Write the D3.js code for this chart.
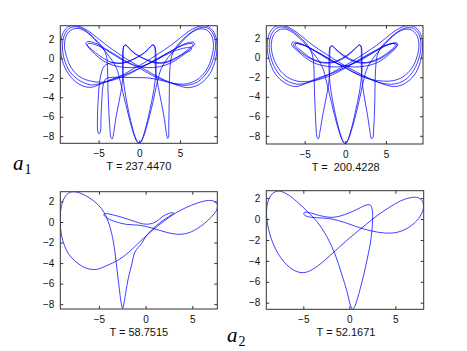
<!DOCTYPE html>
<html><head><meta charset="utf-8">
<script src="https://cdn.jsdelivr.net/npm/d3@7"></script>
<style>body{margin:0;background:#fff}svg{display:block}</style>
</head><body>
<svg id="c" width="467" height="351"></svg>
<script>
// ---------- data ----------
const xTicks = [-5, 0, 5];
const yTicks = [-8, -6, -4, -2, 0, 2];
const periodLabels = ["T = 237.4470", "T =  200.4228", "T = 58.7515", "T = 52.1671"];
const panelNames = [["a", "1"], ["a", "2"]];

// orbit T = 237.4470 (top left)
const orbitTL = [
[-3.6,-2.2],[-4.9,-2.7],[-6.1,-2.98],[-7.5,-2.6],[-8.7,-1.6],[-9.5,-0.1],[-9.65,1.5],[-9.35,2.65],[-8.65,3.3],[-7.6,3.33],[-6.5,2.95],[-5.3,2.2],[-4.1,1.4],[-2.5,0.45],[-0.9,-0.4],[0.7,-1.15],[2.4,-1.95],[4.0,-2.55],[5.2,-2.9],[6.2,-3.0],
[7.5,-2.6],[8.7,-1.55],[9.4,0.0],[9.55,1.5],[9.2,2.65],[8.45,3.28],[7.4,3.3],[6.3,2.9],[5.1,2.15],[3.9,1.35],[2.3,0.45],[0.7,-0.4],[-0.9,-1.15],[-2.5,-1.9],[-4.0,-2.4],[-5.1,-2.65],
[-6.0,-2.72],[-7.3,-2.3],[-8.5,-1.4],[-9.25,0.0],[-9.45,1.4],[-9.15,2.5],[-8.5,3.15],[-7.5,3.22],[-6.5,2.8],[-5.5,2.05],[-4.6,1.25],
[-4.05,0.3],[-3.9,-1.2],[-3.85,-3.2],[-3.75,-5.3],[-3.62,-7.1],[-3.48,-8.15],[-3.33,-8.28],[-3.12,-7.5],[-2.85,-6.0],[-2.45,-4.3],[-2.12,-2.7],[-1.98,-1.2],[-1.98,0.2],[-1.98,0.85],[-1.88,1.25],[-1.7,1.38],[-1.5,1.3],[-1.25,1.05],
[-0.5,0.5],[0.5,0.0],[1.8,-0.45],[3.2,-0.45],[4.5,0.0],[5.6,0.65],[6.4,1.2],[6.82,1.45],[6.7,1.65],[6.2,1.65],[5.3,1.4],[4.2,0.9],[3.0,0.3],
[1.8,-0.3],[0.5,-0.75],[-1.0,-0.95],[-2.5,-0.85],[-3.9,-0.5],[-5.0,0.1],[-5.9,0.8],[-6.4,1.3],[-6.56,1.55],[-6.4,1.72],[-5.9,1.7],[-5.1,1.45],[-4.2,1.0],
[-3.0,0.4],[-1.6,-0.3],[0.0,-1.0],[1.6,-1.75],[3.3,-2.35],[4.8,-2.7],[6.0,-2.75],
[7.3,-2.35],[8.45,-1.3],[9.15,0.1],[9.38,1.5],[9.05,2.55],[8.4,3.12],[7.45,3.15],[6.4,2.7],[5.4,2.0],[4.55,1.2],
[4.0,0.3],[3.75,-1.2],[3.7,-3.2],[3.66,-5.3],[3.62,-7.1],[3.6,-8.05],[3.5,-8.22],[3.35,-7.8],[3.1,-6.3],[2.7,-4.5],[2.3,-2.8],[2.0,-1.2],[1.95,0.2],[1.95,0.85],[1.85,1.25],[1.68,1.38],[1.48,1.3],[1.2,1.02],
[0.5,0.5],[-0.5,0.0],[-1.8,-0.45],[-3.2,-0.45],[-4.4,0.0],[-5.4,0.6],[-6.05,1.05],[-6.39,1.35],[-6.3,1.52],[-5.8,1.5],[-5.0,1.28],[-4.0,0.82],[-2.9,0.25],
[-1.8,-0.3],[-0.5,-0.75],[1.0,-0.95],[2.5,-0.85],[3.8,-0.5],[5.0,0.1],[5.9,0.7],[6.45,1.1],[6.64,1.35],[6.5,1.52],[6.0,1.5],[5.2,1.3],[4.3,0.92],
[3.0,0.35],[1.5,-0.35],[0.0,-1.05],[-1.6,-1.75],[-3.3,-2.25],[-4.8,-2.45],
[-5.9,-2.35],[-7.2,-1.95],[-8.3,-1.05],[-8.95,0.2],[-9.2,1.4],[-8.9,2.45],[-8.25,2.98],[-7.35,3.05],[-6.4,2.65],[-5.5,1.95],[-4.6,1.1],
[-3.6,0.1],[-2.8,-1.0],[-2.3,-2.5],[-1.7,-4.6],[-1.0,-6.9],[-0.45,-8.3],[-0.1,-8.7],[0.2,-8.55],[0.7,-7.4],[1.3,-5.3],[1.8,-3.2],[2.05,-1.3],[2.05,0.3],[2.0,0.9],[1.88,1.28],[1.7,1.4],[1.5,1.32],[1.2,1.05],
[0.4,0.45],[-0.8,-0.1],[-2.2,-0.5],[-3.4,-0.45],[-4.3,-0.8],[-4.8,-2.0],[-5.05,-4.2],[-5.15,-6.4],[-5.1,-7.5],[-4.95,-7.75],[-4.78,-7.5],[-4.7,-6.0],[-4.6,-4.2],[-4.45,-2.8],[-4.1,-2.1],[-3.3,-1.95],[-2.0,-1.95],[-0.5,-1.98],[1.0,-2.0],[2.4,-2.2],[3.8,-2.5],[5.0,-2.65],[5.9,-2.6],
[7.1,-2.2],[8.25,-1.2],[8.9,0.15],[9.12,1.4],[8.85,2.4],[8.2,2.95],[7.3,3.0],[6.35,2.6],[5.45,1.9],[4.55,1.05],
[3.5,0.05],[2.7,-1.05],[2.2,-2.5],[1.65,-4.6],[0.95,-6.9],[0.4,-8.3],[0.05,-8.72],[-0.25,-8.55],[-0.75,-7.4],[-1.35,-5.3],[-1.8,-3.2],[-2.05,-1.3],[-2.05,0.3],[-2.0,0.9],[-1.9,1.25],[-1.72,1.36],[-1.52,1.28],[-1.25,1.0],
[-0.4,0.4],[0.8,-0.1],[2.3,-0.45],[3.5,-0.3],[4.7,0.15],[5.6,0.55],[6.2,0.75],[6.43,0.95],[6.3,1.12],[5.8,1.1],[5.0,0.95],[4.1,0.7],
[3.0,0.25],[1.5,-0.4],[-0.1,-1.05],[-1.8,-1.7]
];

// orbit T = 200.4228 (top right)
const orbitTR = [
[-3.6,-2.15],[-4.9,-2.65],[-6.1,-2.95],[-7.4,-2.6],[-8.6,-1.65],[-9.4,-0.1],[-9.6,1.4],[-9.3,2.55],[-8.6,3.2],[-7.6,3.28],[-6.5,2.9],[-5.3,2.15],[-4.1,1.35],[-2.5,0.45],[-0.9,-0.4],[0.7,-1.15],[2.4,-1.9],[4.0,-2.5],[5.2,-2.85],[6.2,-2.95],
[7.5,-2.55],[8.7,-1.5],[9.35,0.0],[9.5,1.5],[9.15,2.6],[8.4,3.2],[7.4,3.25],[6.3,2.85],[5.1,2.1],[3.9,1.3],[2.3,0.4],[0.7,-0.45],[-0.9,-1.2],[-2.5,-1.9],[-4.0,-2.4],[-5.1,-2.65],
[-6.0,-2.7],[-7.3,-2.3],[-8.4,-1.4],[-9.15,0.0],[-9.35,1.35],[-9.05,2.45],[-8.4,3.05],[-7.5,3.12],[-6.5,2.75],[-5.5,2.05],[-4.6,1.25],
[-4.05,0.3],[-3.85,-1.2],[-3.8,-3.2],[-3.7,-5.3],[-3.6,-7.1],[-3.45,-8.2],[-3.3,-8.3],[-3.1,-7.5],[-2.8,-6.0],[-2.4,-4.3],[-2.05,-2.7],[-1.9,-1.2],[-1.9,0.2],[-1.9,0.75],[-1.82,1.08],[-1.65,1.22],[-1.45,1.12],[-1.15,0.85],
[-0.2,0.15],[0.8,-0.3],[2.0,-0.55],[3.2,-0.45],[4.4,-0.05],[5.4,0.5],[6.1,1.0],[6.45,1.3],[6.35,1.5],[5.9,1.5],[5.1,1.3],[4.1,0.85],[3.0,0.3],
[1.8,-0.3],[0.5,-0.75],[-1.0,-0.95],[-2.5,-0.85],[-3.8,-0.55],[-4.9,0.0],[-5.8,0.65],[-6.4,1.1],[-6.6,1.4],[-6.45,1.6],[-6.0,1.58],[-5.2,1.35],[-4.3,0.95],
[-3.1,0.4],[-1.6,-0.3],[0.0,-1.0],[1.6,-1.7],[3.3,-2.3],[4.8,-2.65],[6.0,-2.7],
[7.3,-2.3],[8.4,-1.3],[9.1,0.1],[9.3,1.45],[9.0,2.45],[8.35,3.0],[7.45,3.05],[6.4,2.65],[5.4,1.95],[4.5,1.2],
[3.95,0.3],[3.72,-1.2],[3.65,-3.2],[3.6,-5.3],[3.5,-7.1],[3.38,-8.2],[3.22,-8.3],[3.02,-7.5],[2.75,-6.0],[2.4,-4.3],[2.1,-2.7],[1.98,-1.2],[1.97,0.2],[1.97,0.85],[1.9,1.18],[1.75,1.32],[1.55,1.22],[1.25,0.95],
[0.2,0.15],[-0.8,-0.3],[-2.0,-0.55],[-3.2,-0.45],[-4.4,-0.05],[-5.4,0.5],[-6.05,0.95],[-6.35,1.25],[-6.25,1.45],[-5.8,1.45],[-5.0,1.25],[-4.0,0.8],[-2.9,0.25],
[-1.8,-0.3],[-0.5,-0.75],[1.0,-0.95],[2.5,-0.85],[3.8,-0.55],[4.9,0.0],[5.7,0.6],[6.2,1.0],[6.35,1.3],[6.2,1.48],[5.75,1.45],[5.0,1.25],[4.2,0.9],
[3.0,0.35],[1.5,-0.35],[0.0,-1.05],[-1.6,-1.75],[-3.3,-2.25],[-4.8,-2.45],
[-5.9,-2.4],[-7.1,-2.0],[-8.2,-1.1],[-8.9,0.15],[-9.1,1.35],[-8.8,2.35],[-8.15,2.85],[-7.3,2.92],[-6.4,2.55],[-5.5,1.9],[-4.6,1.1],
[-3.6,0.1],[-2.8,-1.0],[-2.3,-2.5],[-1.7,-4.6],[-1.0,-6.9],[-0.45,-8.3],[-0.1,-8.78],[0.2,-8.6],[0.7,-7.4],[1.3,-5.3],[1.8,-3.2],[2.05,-1.3],[2.05,0.3],[2.02,0.88],[1.93,1.2],[1.77,1.32],[1.57,1.23],[1.25,0.97],
[0.1,0.2],[-1.0,-0.3],[-2.2,-0.5],[-3.4,-0.35],[-4.5,0.1],[-5.4,0.7],[-5.95,1.05],[-6.15,1.3],[-6.0,1.45],[-5.6,1.4],[-4.8,1.2],[-3.9,0.8],
[-2.8,0.3],[-1.4,-0.4],[0.1,-1.1],[1.7,-1.8],[3.3,-2.25],[4.8,-2.4],[5.9,-2.35],
[7.1,-1.95],[8.2,-1.05],[8.85,0.2],[9.05,1.4],[8.75,2.35],[8.1,2.85],[7.25,2.9],[6.3,2.5],[5.4,1.85],[4.5,1.05],
[3.5,0.05],[2.7,-1.05],[2.2,-2.5],[1.65,-4.6],[0.95,-6.9],[0.4,-8.3],[0.05,-8.8],[-0.25,-8.6],[-0.75,-7.4],[-1.35,-5.3],[-1.8,-3.2],[-2.0,-1.3],[-1.98,0.3],[-1.95,0.8],[-1.86,1.1],[-1.68,1.22],[-1.48,1.12],[-1.15,0.85],
[0.0,0.15],[1.1,-0.3],[2.3,-0.5],[3.5,-0.3],[4.6,0.15],[5.5,0.7],[6.0,1.05],[6.15,1.3],[5.95,1.45],[5.5,1.4],[4.7,1.2],[3.8,0.8],
[2.7,0.3],[1.3,-0.4],[-0.2,-1.05],[-1.8,-1.65]
];

// orbit T = 58.7515 (bottom left)
const orbitBL = [
[-2.46,-8.41],[-2.32,-7.92],[-2.11,-6.79],[-1.86,-5.49],[-1.50,-4.19],[-1.14,-2.92],[-0.43,-2.08],[0.11,-1.30],[0.64,-0.78],[1.18,-0.32],[1.89,0.16],[2.43,0.49],[2.79,0.71],[3.04,0.81],[2.96,0.91],[2.43,0.81],
[1.89,0.58],[1.46,0.26],[1.0,-0.03],[0.46,-0.19],[-0.25,-0.19],[-1.32,0.10],[-2.39,0.42],[-3.46,0.68],[-4.11,0.81],[-4.46,0.78],[-4.46,0.65],[-4.18,0.42],[-3.46,0.10],[-2.04,-0.23],[-0.61,-0.32],[0.82,-0.62],[2.25,-1.01],[3.68,-1.20],[4.93,-0.94],[6.18,-0.23],[7.07,0.52],[7.61,1.17],[7.68,1.72],[7.25,2.05],[6.54,2.08],[5.46,1.82],[4.39,1.43],[3.14,0.84],[1.89,0.03],[0.64,-0.88],[-0.61,-1.92],[-1.86,-2.99],[-2.93,-3.70],[-4.18,-4.25],[-5.25,-4.61],[-6.32,-4.51],[-7.39,-3.93],[-8.29,-3.05],[-8.89,-1.75],[-9.14,-0.29],[-9.11,1.01],[-8.82,2.14],[-8.29,2.79],[-7.75,2.95],[-6.86,2.76],[-5.96,2.31],[-5.07,1.66],[-4.46,0.94],[-4.0,0.03],[-3.64,-1.10],[-3.29,-2.89],[-3.04,-4.84],[-2.82,-6.46],[-2.64,-7.76]
];

// orbit T = 52.1671 (bottom right)
const orbitBR = [
[0.36,-8.63],[0.58,-8.38],[0.83,-7.74],[1.20,-6.62],[1.56,-5.35],[1.92,-3.92],[2.25,-2.48],[2.46,-1.05],[2.54,0.22],[2.46,1.02],[2.32,1.31],[2.03,1.37],[1.56,1.24],[0.83,0.92],[-0.07,0.57],[-0.98,0.29],[-1.88,0.16],[-2.79,0.25],[-3.70,0.45],[-4.49,0.64],[-4.86,0.64],[-4.96,0.48],[-4.71,0.29],[-4.06,0.16],[-2.97,0.10],[-1.88,0.0],[-0.43,-0.35],[1.01,-0.80],[2.46,-1.15],[3.91,-1.34],[5.18,-1.27],[6.45,-0.80],[7.54,0.06],[8.04,1.02],[7.97,1.66],[7.46,2.04],[6.63,2.04],[5.54,1.72],[4.28,1.08],[3.01,0.32],[1.74,-0.57],[0.29,-1.62],[-1.16,-2.74],[-2.43,-3.76],[-3.70,-4.65],[-4.78,-5.10],[-5.69,-5.03],[-6.78,-4.39],[-7.86,-3.12],[-8.66,-1.37],[-8.99,0.38],[-8.84,1.66],[-8.33,2.45],[-7.68,2.68],[-6.78,2.39],[-5.69,1.66],[-4.60,0.76],[-3.51,-0.25],[-2.43,-1.69],[-1.52,-3.44],[-0.80,-5.35],[-0.25,-6.94],[0.11,-8.22]
];

// ---------- layout ----------
const panels = [
  {orbit: orbitTL, label: periodLabels[0], box: [60.3, 25.7, 217.3, 143.3], xd: [-9.71, 9.59], yd: [-8.73, 3.36]},
  {orbit: orbitTR, label: periodLabels[1], box: [266.3, 25.7, 423, 144], xd: [-9.71, 9.55], yd: [-8.84, 3.28]},
  {orbit: orbitBL, label: periodLabels[2], box: [60.3, 191.7, 217.3, 309], xd: [-9.14, 7.68], yd: [-8.47, 2.95]},
  {orbit: orbitBR, label: periodLabels[3], box: [266.3, 190.7, 423.7, 309.3], xd: [-9.02, 8.08], yd: [-8.63, 2.71]}
];

const svg = d3.select("#c");
svg.append("rect").attr("width", 467).attr("height", 351).attr("fill", "#fff");
const font = "'Liberation Sans', Arial, Helvetica, sans-serif";
const axisColor = "#333";

panels.forEach((p, i) => {
  const [x0, y0, x1, y1] = p.box;
  const x = d3.scaleLinear().domain(p.xd).range([x0, x1]);
  const y = d3.scaleLinear().domain(p.yd).range([y1, y0]);
  const g = svg.append("g");

  const clipId = "clip" + i;
  svg.append("clipPath").attr("id", clipId)
    .append("rect").attr("x", x0).attr("y", y0).attr("width", x1 - x0).attr("height", y1 - y0);

  const line = d3.line().x(d => x(d[0])).y(d => y(d[1]))
    .curve(d3.curveCatmullRomClosed.alpha(0.5));
  g.append("path").datum(p.orbit)
    .attr("clip-path", `url(#${clipId})`)
    .attr("d", line)
    .attr("fill", "none")
    .attr("stroke", "#0000ff")
    .attr("stroke-width", 0.75)
    .attr("stroke-linejoin", "round");

  const styleAxis = sel => {
    sel.select(".domain").remove();
    sel.selectAll("line").attr("stroke", axisColor);
    sel.selectAll("text").attr("font-family", font).attr("font-size", 10).attr("fill", "#111");
  };
  g.append("g").attr("transform", `translate(0,${y1})`)
    .call(d3.axisBottom(x).tickValues(xTicks).tickSize(-3).tickPadding(7).tickSizeOuter(0))
    .call(styleAxis);
  g.append("g").attr("transform", `translate(0,${y0})`)
    .call(d3.axisTop(x).tickValues(xTicks).tickSize(-3).tickFormat("").tickSizeOuter(0))
    .call(styleAxis);
  g.append("g").attr("transform", `translate(${x0},0)`)
    .call(d3.axisLeft(y).tickValues(yTicks).tickSize(-3).tickPadding(6).tickSizeOuter(0))
    .call(styleAxis);
  g.append("g").attr("transform", `translate(${x1},0)`)
    .call(d3.axisRight(y).tickValues(yTicks).tickSize(-3).tickFormat("").tickSizeOuter(0))
    .call(styleAxis);

  g.append("rect").attr("x", x0).attr("y", y0).attr("width", x1 - x0).attr("height", y1 - y0)
    .attr("fill", "none").attr("stroke", axisColor).attr("stroke-width", 1);

  g.append("text").attr("x", (x0 + x1) / 2 + (i % 2 ? 1 : 0)).attr("y", y1 + 26.5)
    .attr("text-anchor", "middle").attr("font-family", font).attr("font-size", 11)
    .attr("fill", "#111").style("white-space", "pre").text(p.label);
});

// panel group labels a1, a2
const nameLayout = [{x: 13, y: 170}, {x: 227, y: 342}];
panelNames.forEach((n, i) => {
  const t = svg.append("text").attr("x", nameLayout[i].x).attr("y", nameLayout[i].y)
    .attr("font-family", "'Liberation Serif', 'DejaVu Serif', serif").attr("fill", "#000");
  t.append("tspan").attr("font-style", "italic").attr("font-size", 21).text(n[0]);
  t.append("tspan").attr("font-size", 14).attr("dy", 4).attr("dx", 1).text(n[1]);
});
</script>
</body></html>
